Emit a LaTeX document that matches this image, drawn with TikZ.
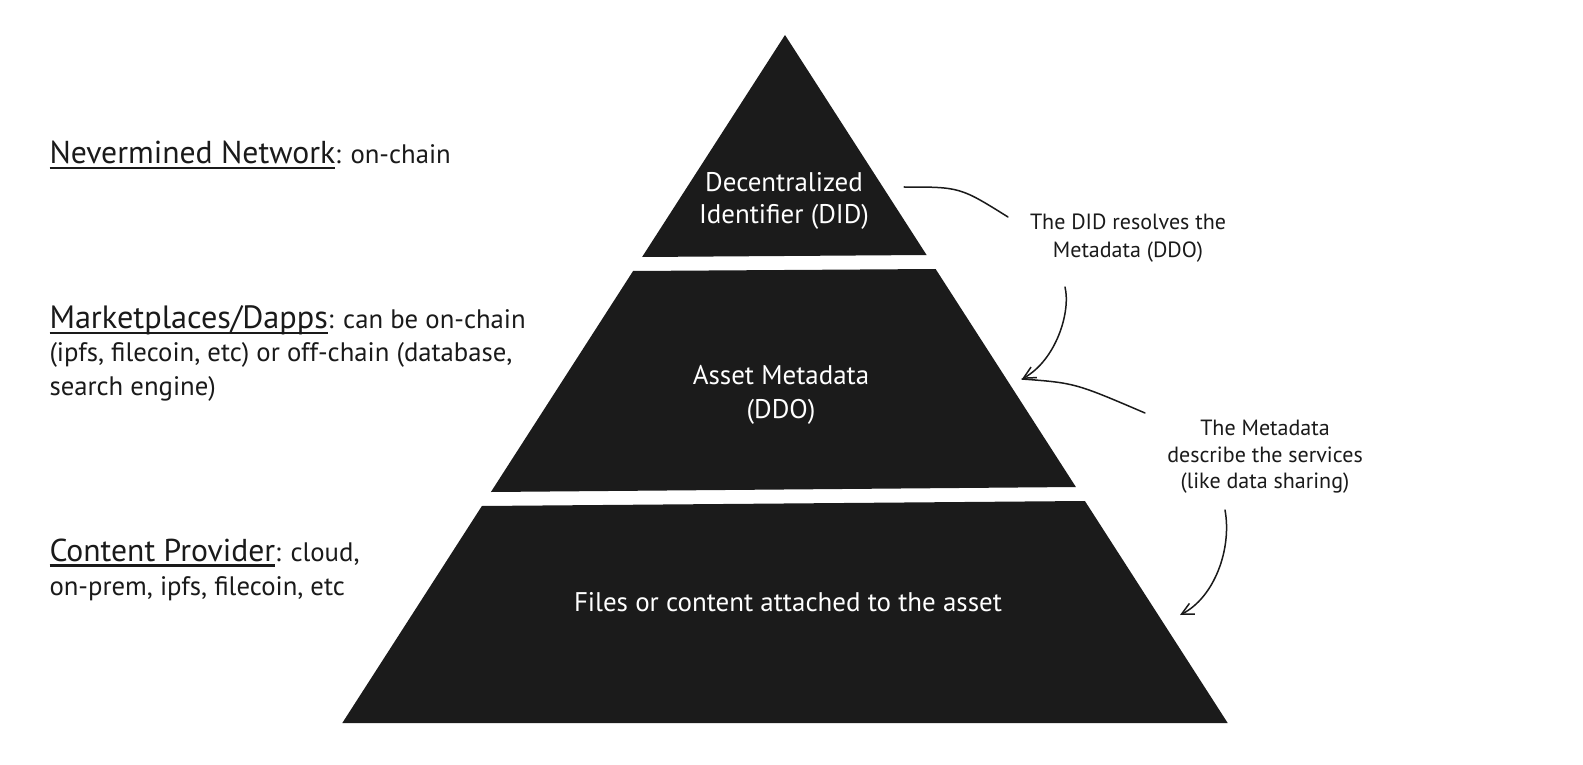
\documentclass[tikz,border=0pt]{standalone}
\usepackage{fontspec}
\setmainfont{PT Sans}
\usetikzlibrary{arrows.meta}
\definecolor{ink}{HTML}{1A1A1A}
\definecolor{layer}{HTML}{1B1B1B}
\newlength\fitlen
\newcommand\fitto[3]{\settowidth\fitlen{\fontsize{10}{12}\selectfont #3}\pgfmathsetmacro#1{10*#2/\fitlen}}
\newcommand\myul[1]{\setbox0\hbox{#1}\rlap{\rule[-5.5pt]{\wd0}{2.2pt}}\box0}
\newcommand\setfs[1]{\fontsize{#1}{#1}\selectfont}
\begin{document}%
\fitto\szNev{285.7}{Nevermined Network}%
\fitto\szMkt{278.4}{Marketplaces/Dapps}%
\fitto\szCp{225.7}{Content Provider}%
\fitto\szSm{463}{(ipfs, filecoin, etc) or off-chain (database,}%
\fitto\szPyr{428}{Files or content attached to the asset}%
\fitto\szLab{196}{The DID resolves the}%
\begin{tikzpicture}[x=1pt,y=-1pt,
  lay/.style={fill=layer},
  lefttxt/.style={anchor=base west,inner sep=0pt,text=ink},
  pyrtxt/.style={anchor=base,inner sep=0pt,text=white},
  labtxt/.style={anchor=base,inner sep=0pt,text=ink},
  conn/.style={draw=ink,line width=1.5pt,line cap=round},
  arr/.style={conn,-{Straight Barb[length=12pt,width=12pt]}}]
\fill[white] (0,0) rectangle (1583,765);
% pyramid layers
\fill[lay] (785,35) -- (926.6,255) -- (642.1,257) -- cycle;
\fill[lay] (633.1,271) -- (935.6,269) -- (1075.9,487) -- (490.9,492) -- cycle;
\fill[lay] (481.9,506) -- (1084.9,501) -- (1227.7,723) -- (342.3,723) -- cycle;
% left texts
\node[lefttxt] (nev) at (49.3,163.3) {\setfs\szNev\myul{Nevermined Network}\setfs\szSm: on-chain};
\node[lefttxt] (mkt1) at (49.3,328.3) {\setfs\szMkt\myul{Marketplaces/Dapps}\setfs\szSm: can be on-chain};
\node[lefttxt] (mkt2) at (49.3,361.7) {\setfs\szSm(ipfs, filecoin, etc) or off-chain (database,};
\node[lefttxt] (mkt3) at (49.3,395) {\setfs\szSm search engine)};
\node[lefttxt] (cp1) at (49.3,561) {\setfs\szCp\myul{Content Provider}\setfs\szSm: cloud,};
\node[lefttxt] (cp2) at (49.3,595) {\setfs\szSm on-prem, ipfs, filecoin, etc};
% pyramid texts
\node[pyrtxt] (did1) at (784,191.7) {\setfs\szPyr Decentralized};
\node[pyrtxt] (did2) at (784,223.5) {\setfs\szPyr Identifier (DID)};
\node[pyrtxt] (ddo1) at (781,384.5) {\setfs\szPyr Asset Metadata};
\node[pyrtxt] (ddo2) at (781,418) {\setfs\szPyr (DDO)};
\node[pyrtxt] (files) at (788,611) {\setfs\szPyr Files or content attached to the asset};
% annotation labels
\node[labtxt] (l1a) at (1128,229.3) {\setfs\szLab The DID resolves the};
\node[labtxt] (l1b) at (1128,257.3) {\setfs\szLab Metadata (DDO)};
\node[labtxt] (l2a) at (1265,435) {\setfs\szLab The Metadata};
\node[labtxt] (l2b) at (1265,462.3) {\setfs\szLab describe the services};
\node[labtxt] (l2c) at (1265,488.3) {\setfs\szLab (like data sharing)};
% connectors
\coordinate (c1s) at (904,187);
\coordinate (c1e) at (1008,217);
\coordinate (c2s) at (1065,287);
\coordinate (tipA) at (1022,379);
\coordinate (c3e) at (1145,413);
\coordinate (c4s) at (1225,510);
\coordinate (tipB) at (1180,615);
\draw[conn] (c1s) .. controls (960,187) .. (c1e);
\draw[arr] (c2s) .. controls (1071,312) and (1056,360) .. (tipA);
\draw[conn] (tipA) .. controls (1075,383) .. (c3e);
\draw[arr] (c4s) .. controls (1232,548) and (1215,597) .. (tipB);
\end{tikzpicture}%
\end{document}
